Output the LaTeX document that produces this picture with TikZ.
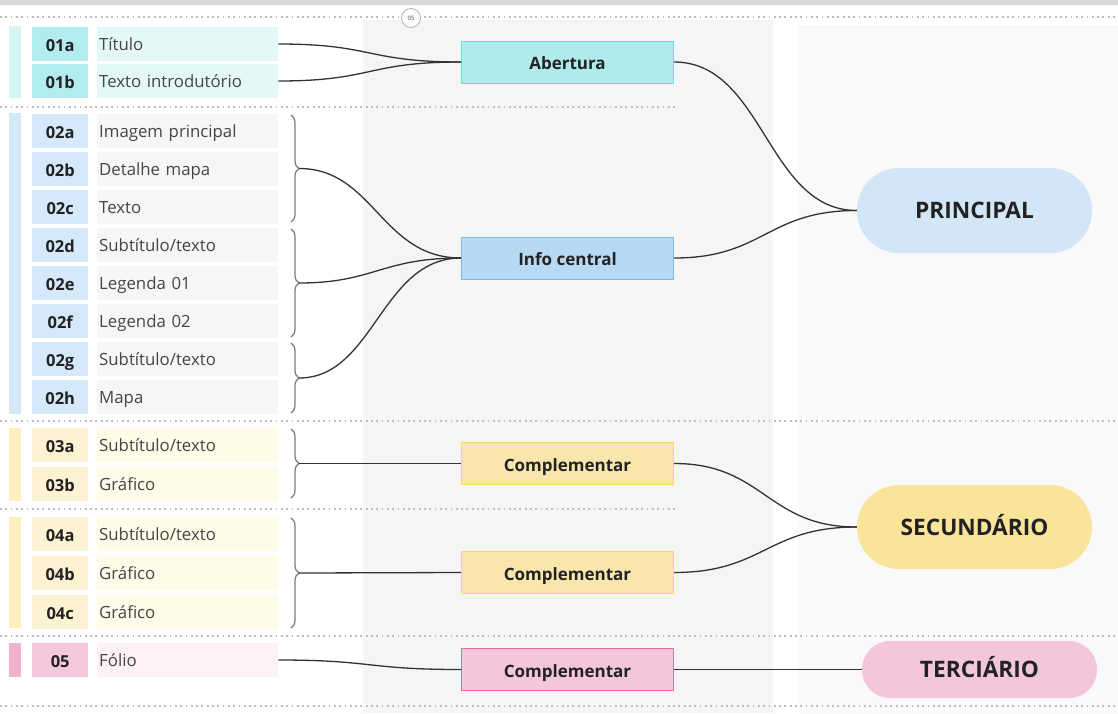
\documentclass[tikz,border=0pt]{standalone}
\usepackage{fontspec}
\setmainfont{Open Sans}
\usetikzlibrary{decorations.pathreplacing}
\definecolor{topgray}{HTML}{D9D9D9}
\definecolor{colgray}{HTML}{F5F5F5}
\definecolor{panelgray}{HTML}{F9F9F9}
\definecolor{dotgray}{HTML}{BDBDBD}
\definecolor{linedark}{HTML}{333333}
\definecolor{bracegray}{HTML}{7A7A7A}
\definecolor{txtdark}{HTML}{222222}
\definecolor{txtgray}{HTML}{454545}
\definecolor{cyBar}{HTML}{D4F4F5}
\definecolor{cyCode}{HTML}{B2ECEF}
\definecolor{cyLbl}{HTML}{E4F8F8}
\definecolor{cyFill}{HTML}{B0EBEC}
\definecolor{cyDraw}{HTML}{6FD9E0}
\definecolor{blBar}{HTML}{D5E8F8}
\definecolor{blCode}{HTML}{D5E9FA}
\definecolor{blLbl}{HTML}{F6F6F6}
\definecolor{blFill}{HTML}{B8D9F3}
\definecolor{blDraw}{HTML}{78B8EC}
\definecolor{blPill}{HTML}{D3E6F7}
\definecolor{yeBar}{HTML}{FDEEBD}
\definecolor{yeCode}{HTML}{FDF3D3}
\definecolor{yeLbl}{HTML}{FEFBE8}
\definecolor{yeFill}{HTML}{F8E6AD}
\definecolor{yeDraw}{HTML}{F6D86A}
\definecolor{yePill}{HTML}{F9E49A}
\definecolor{piBar}{HTML}{F1B2CD}
\definecolor{piCode}{HTML}{F6C8DD}
\definecolor{piLbl}{HTML}{FDF0F6}
\definecolor{piFill}{HTML}{F3C6DC}
\definecolor{piDraw}{HTML}{E868A0}
\definecolor{piPill}{HTML}{F3C6DC}
\begin{document}
\begin{tikzpicture}[x=1pt,y=-1pt,
  codebox/.style={fill=#1, minimum width=56pt, minimum height=34pt, inner sep=0pt,
    text height=14pt, text depth=0pt,
    font=\bfseries\fontsize{16.5}{18}\selectfont, text=txtdark, anchor=west},
  lblbox/.style={fill=#1, minimum width=181pt, minimum height=34pt, text width=177pt,
    text height=13.5pt, text depth=0pt,
    inner xsep=2pt, inner ysep=0pt, align=left, font=\fontsize{16.8}{18}\selectfont,
    text=txtgray, anchor=west},
  midbox/.style 2 args={draw=#1, fill=#2, line width=1pt, minimum width=212pt,
    minimum height=42pt, inner sep=0pt, text height=15pt, text depth=0pt,
    font=\bfseries\fontsize{17}{18}\selectfont, text=txtdark},
  pill/.style 2 args={fill=#1, rounded corners=#2, minimum width=235pt, inner sep=0pt,
    text height=16pt, text depth=0pt,
    font=\bfseries\fontsize{22.7}{24}\selectfont, text=txtdark},
  dotline/.style={draw=dotgray, line width=1.8pt, dash pattern=on 1.8pt off 3.5pt},
  conn/.style={draw=linedark, line width=1.3pt},
  bracesty/.style={draw=bracegray, line width=1.2pt, decorate,
    decoration={brace, amplitude=8pt, aspect=0.5}}
]
\useasboundingbox (0,0) rectangle (1118,713);
\fill[white] (0,0) rectangle (1118,713);
% backgrounds
\fill[topgray] (0,0) rectangle (1118,5);
\fill[colgray] (363,20) rectangle (773,713);
\fill[panelgray] (799,25) rectangle (1118,713);
% dotted separators
\draw[dotline] (0,17) -- (1118,17);
\draw[dotline] (0,107) -- (675,107);
\draw[dotline] (0,421) -- (1118,421);
\draw[dotline] (0,509) -- (675,509);
\draw[dotline] (0,636) -- (1118,636);
\draw[dotline] (0,706) -- (1118,706);
\node[circle, draw=gray!60, fill=white, line width=0.8pt, minimum size=19pt, inner sep=0pt,
  font=\fontsize{6}{6}\selectfont, text=txtgray] (pg) at (411,18) {05};
% side bars
\fill[cyBar] (9,26) rectangle (21,98);
\fill[blBar] (9,113) rectangle (21,414);
\fill[yeBar] (9,428) rectangle (21,501);
\fill[yeBar] (9,517) rectangle (21,628);
\fill[piBar] (9,643) rectangle (21,677);
% section 1
\node[codebox=cyCode] (c01a) at (32,44) {01a};
\node[lblbox=cyLbl] (l01a) at (97,44) {Título};
\node[codebox=cyCode] (c01b) at (32,81) {01b};
\node[lblbox=cyLbl] (l01b) at (97,81) {Texto introdutório};
% section 2
\node[codebox=blCode] (c02a) at (32,131) {02a};
\node[lblbox=blLbl] (l02a) at (97,131) {Imagem principal};
\node[codebox=blCode] (c02b) at (32,169) {02b};
\node[lblbox=blLbl] (l02b) at (97,169) {Detalhe mapa};
\node[codebox=blCode] (c02c) at (32,207) {02c};
\node[lblbox=blLbl] (l02c) at (97,207) {Texto};
\node[codebox=blCode] (c02d) at (32,245) {02d};
\node[lblbox=blLbl] (l02d) at (97,245) {Subtítulo/texto};
\node[codebox=blCode] (c02e) at (32,283) {02e};
\node[lblbox=blLbl] (l02e) at (97,283) {Legenda 01};
\node[codebox=blCode] (c02f) at (32,321) {02f};
\node[lblbox=blLbl] (l02f) at (97,321) {Legenda 02};
\node[codebox=blCode] (c02g) at (32,359) {02g};
\node[lblbox=blLbl] (l02g) at (97,359) {Subtítulo/texto};
\node[codebox=blCode] (c02h) at (32,397) {02h};
\node[lblbox=blLbl] (l02h) at (97,397) {Mapa};
% section 3
\node[codebox=yeCode] (c03a) at (32,445) {03a};
\node[lblbox=yeLbl] (l03a) at (97,445) {Subtítulo/texto};
\node[codebox=yeCode] (c03b) at (32,484) {03b};
\node[lblbox=yeLbl] (l03b) at (97,484) {Gráfico};
% section 4
\node[codebox=yeCode] (c04a) at (32,534) {04a};
\node[lblbox=yeLbl] (l04a) at (97,534) {Subtítulo/texto};
\node[codebox=yeCode] (c04b) at (32,573) {04b};
\node[lblbox=yeLbl] (l04b) at (97,573) {Gráfico};
\node[codebox=yeCode] (c04c) at (32,612) {04c};
\node[lblbox=yeLbl] (l04c) at (97,612) {Gráfico};
% section 5
\node[codebox=piCode] (c05) at (32,660) {05};
\node[lblbox=piLbl] (l05) at (97,660) {Fólio};
% braces
\draw[bracesty] (291,115) -- (291,222);
\draw[bracesty] (291,229) -- (291,337);
\draw[bracesty] (291,343) -- (291,413);
\draw[bracesty] (291,429) -- (291,498);
\draw[bracesty] (291,518) -- (291,628);
\coordinate (t1) at (299,168.5);
\coordinate (t2) at (299,283);
\coordinate (t3) at (299,378);
\coordinate (t4) at (299,463.5);
\coordinate (t5) at (299,573);
% middle nodes
\node[midbox={cyDraw}{cyFill}] (ab) at (567.5,62) {Abertura};
\node[midbox={blDraw}{blFill}] (ic) at (567.5,258) {Info central};
\node[midbox={yeDraw}{yeFill}] (cp1) at (567.5,463.5) {Complementar};
\node[midbox={yeDraw}{yeFill}] (cp2) at (567.5,572.5) {Complementar};
\node[midbox={piDraw}{piFill}] (cp3) at (567.5,669.5) {Complementar};
% right nodes
\node[pill={blPill}{42pt}, minimum height=85pt] (pri) at (974.5,210.5) {PRINCIPAL};
\node[pill={yePill}{42pt}, minimum height=84pt] (sec) at (974.5,527) {SECUNDÁRIO};
\node[pill={piPill}{28pt}, minimum height=57pt] (ter) at (979.5,669.5) {TERCIÁRIO};
% connectors left
\draw[conn] (l01a.east) .. controls +(95,0) and +(-95,0) .. (ab.west);
\draw[conn] (l01b.east) .. controls +(95,0) and +(-95,0) .. (ab.west);
\draw[conn] (t1) .. controls +(75,0) and +(-80,0) .. (ic.west);
\draw[conn] (t2) .. controls +(75,0) and +(-80,0) .. (ic.west);
\draw[conn] (t3) .. controls +(75,0) and +(-80,0) .. (ic.west);
\draw[conn] (t4) -- (cp1.west);
\draw[conn] (t5) -- (cp2.west);
\draw[conn] (l05.east) .. controls +(95,0) and +(-95,0) .. (cp3.west);
% connectors right
\draw[conn] (ab.east) .. controls +(90,0) and +(-90,0) .. (pri.west);
\draw[conn] (ic.east) .. controls +(90,0) and +(-90,0) .. (pri.west);
\draw[conn] (cp1.east) .. controls +(90,0) and +(-90,0) .. (sec.west);
\draw[conn] (cp2.east) .. controls +(90,0) and +(-90,0) .. (sec.west);
\draw[conn] (cp3.east) -- (ter.west);
\end{tikzpicture}
\end{document}
